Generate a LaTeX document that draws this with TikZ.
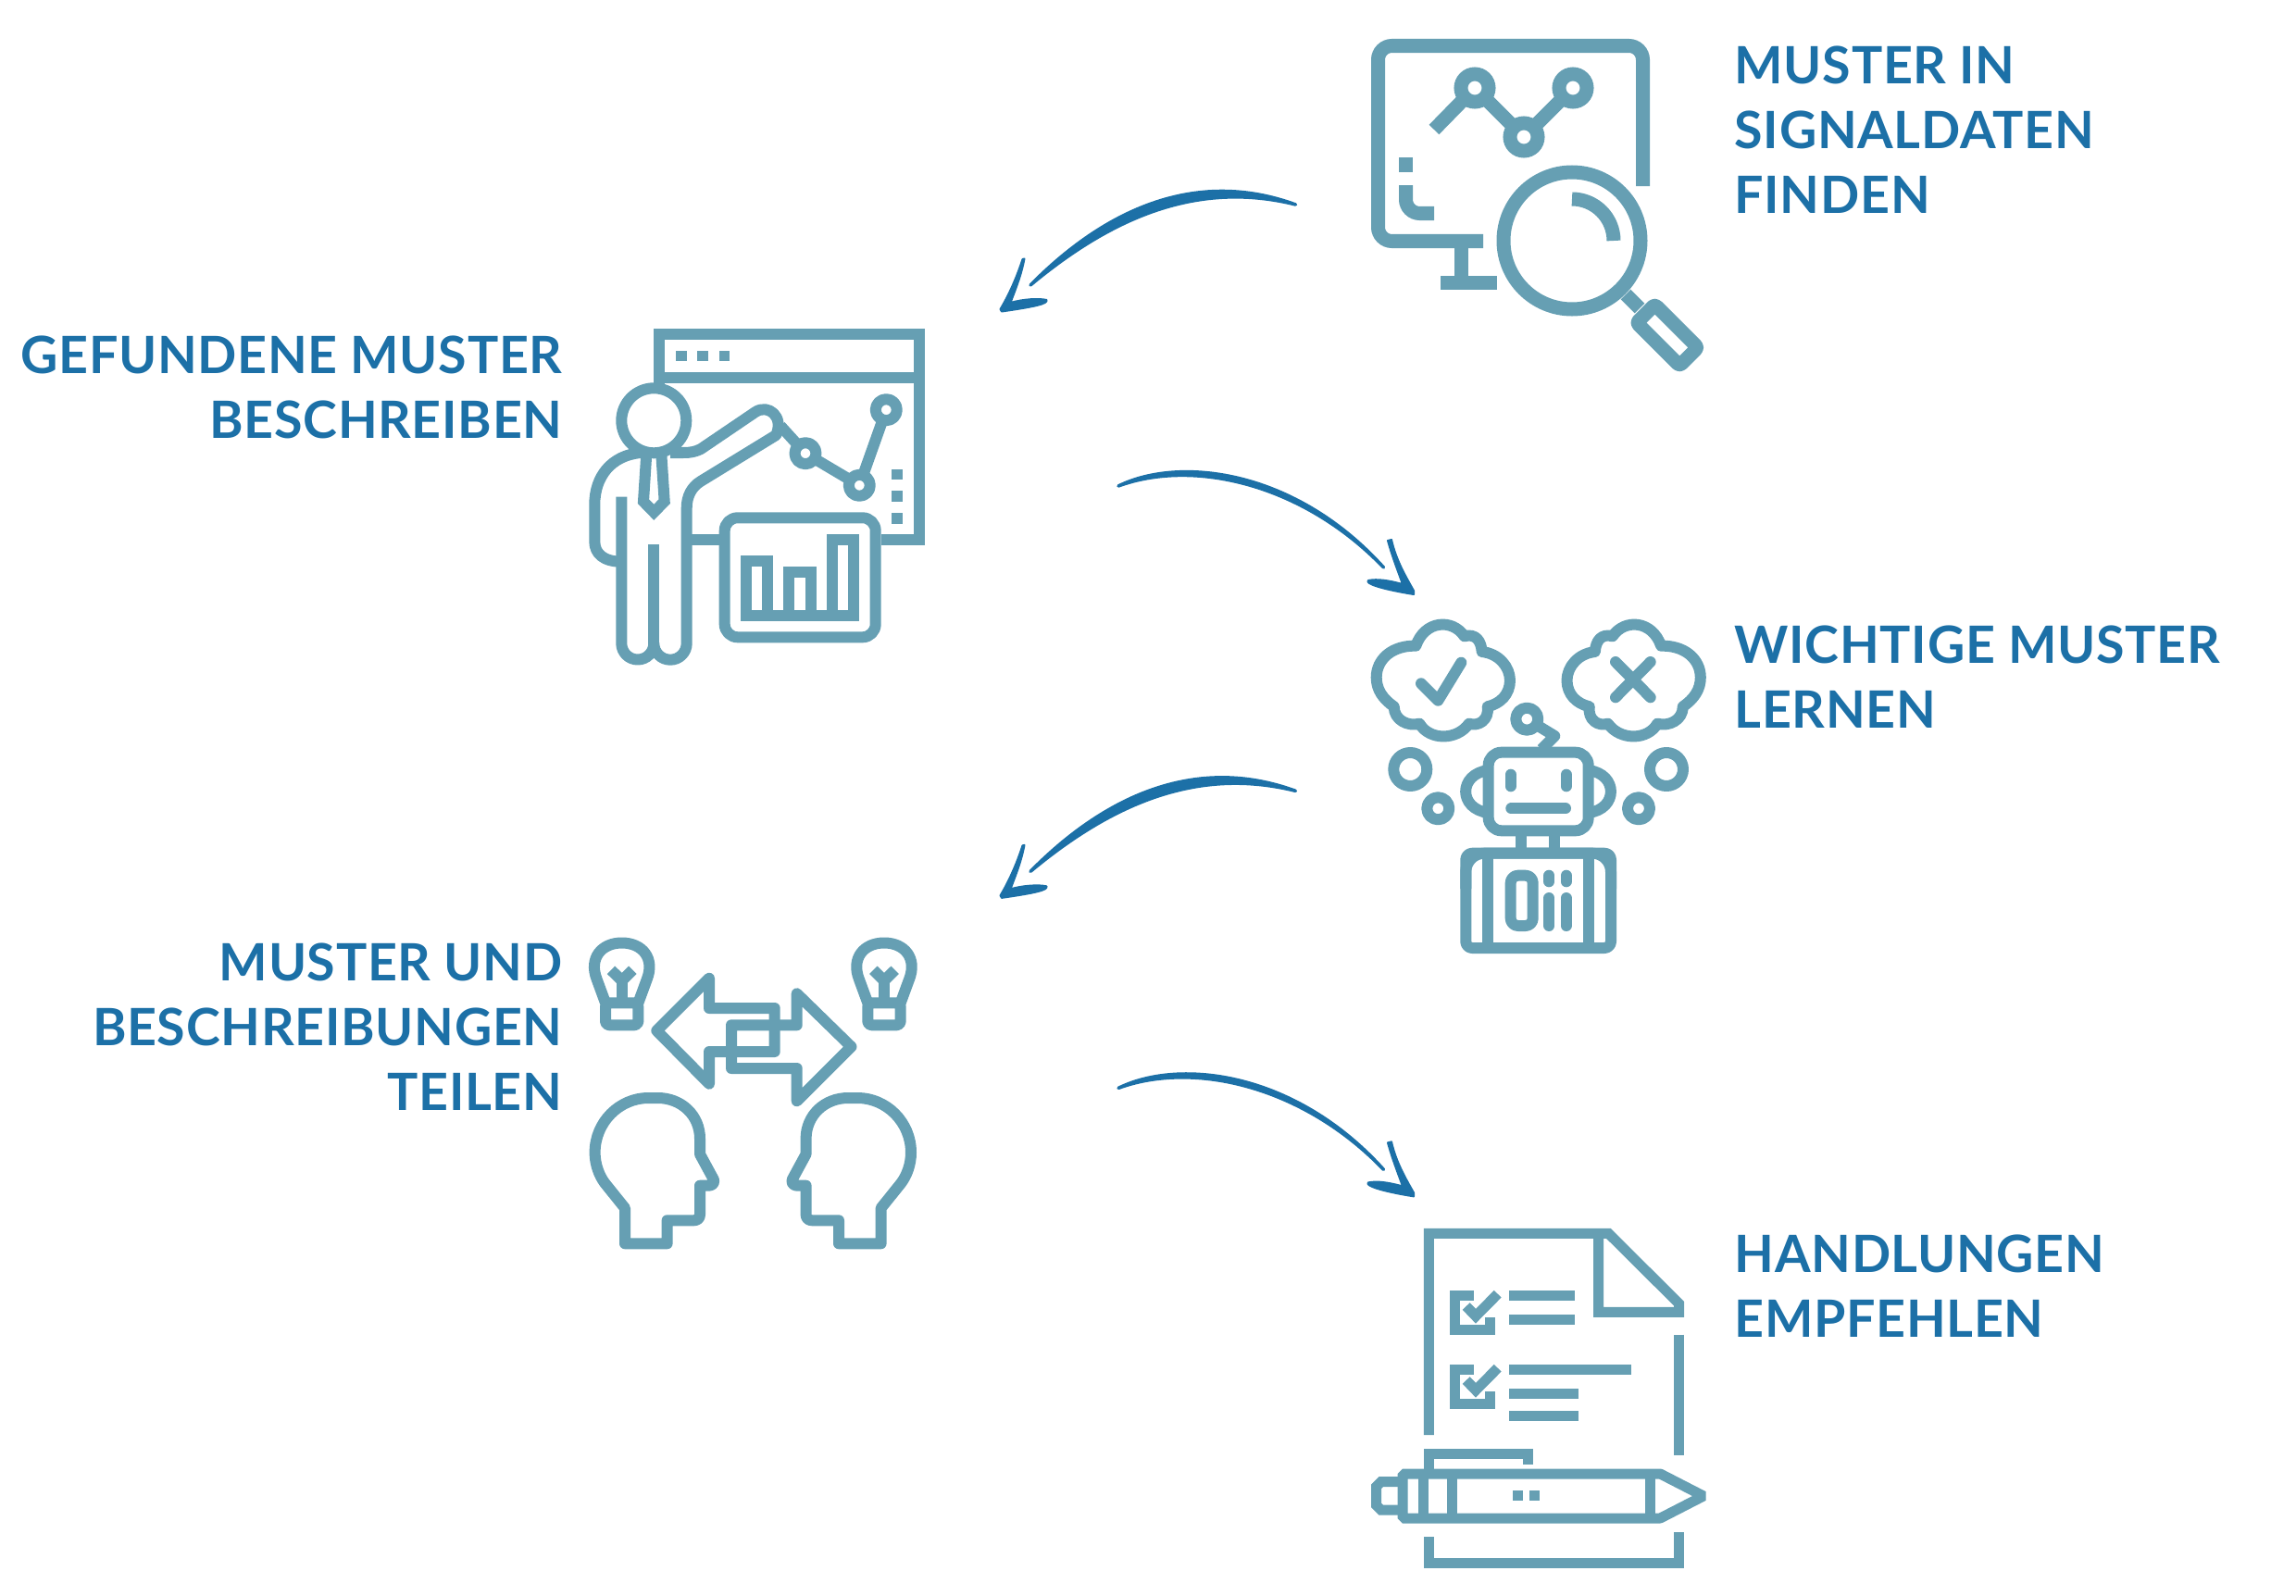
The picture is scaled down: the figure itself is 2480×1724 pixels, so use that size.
\documentclass[tikz,border=0pt]{standalone}
\usepackage{fontspec}
\setmainfont{Lato}[LetterSpace=1.2]
\definecolor{iconteal}{RGB}{102,159,179}
\definecolor{inkblue}{RGB}{28,112,167}
\tikzset{
	icon/.style={draw=iconteal,line width=0.12cm,line join=round},
	iconwide/.style={draw=iconteal,line width=0.15cm},
	icondoc/.style={draw=iconteal,line width=0.11cm},
	dot/.style={icon,line cap=round},
	ring/.style={icon,fill=white},
	inkstroke/.style={fill=inkblue,draw=inkblue,line join=round},
	labeltext/.style={inner sep=0pt,text=inkblue,font=\fontsize{15.8}{19.9}\selectfont\bfseries},
	labelleft/.style={labeltext,anchor=north east,align=right},
	labelright/.style={labeltext,anchor=north west,align=left},
}
\newcommand{\sketchleft}[2]{
	\begin{scope}[yshift=#2]
		\coordinate (#1s) at (1399.5,221);
		\coordinate (#1e) at (1113,308);
		\path[inkstroke,line width=0.035cm] (#1e) .. controls (1192,228) and (1290,181) .. (#1s) .. controls (1295,195) and (1203,233) .. (#1e) -- cycle;
		\path[inkstroke,line width=0.02cm] (1106.5,279.5) .. controls (1103,298) and (1097,312) .. (1091.5,327) .. controls (1105,323) and (1122,322) .. (1130.5,324) .. controls (1132,328) and (1120,331) .. (1082,336.5) -- (1080.5,334) .. controls (1090,318) and (1098,300) .. (1104.5,280) -- cycle;
	\end{scope}
}
\newcommand{\sketchright}[2]{
	\begin{scope}[yshift=#2]
		\coordinate (#1s) at (1208,525);
		\coordinate (#1e) at (1494.5,613);
		\path[inkstroke,line width=0.035cm] (#1s) .. controls (1275,492) and (1400,508) .. (#1e) .. controls (1408,523) and (1290,495) .. (#1s) -- cycle;
		\path[inkstroke,line width=0.02cm] (1499,584) .. controls (1504,602) and (1510,617) .. (1515,631) .. controls (1500,627) and (1488,625) .. (1478,627) .. controls (1474,630) and (1490,636) .. (1527,642) -- (1527,638) .. controls (1518,622) and (1508,605) .. (1503,583) -- cycle;
	\end{scope}
}
\begin{document}
\begin{tikzpicture}[x=0.01cm,y=-0.01cm]
	\useasboundingbox (0,0) rectangle (2480,1724);

	\node[labelright] (signaltext)	at (1873, 49) 	{MUSTER IN\\SIGNALDATEN\\FINDEN};
	\node[labelleft] (describetext)	at ( 608,362) 	{GEFUNDENE MUSTER\\BESCHREIBEN};
	\node[labelright] (learntext)	at (1873,675) 	{WICHTIGE MUSTER\\LERNEN};
	\node[labelleft] (sharetext)	at ( 608,1018) 	{MUSTER UND\\BESCHREIBUNGEN\\TEILEN};
	\node[labelright] (actiontext)	at (1873,1333) 	{HANDLUNGEN\\EMPFEHLEN};

	\sketchleft{arrowa}{0cm}
	\sketchright{arrowb}{0cm}
	\sketchleft{arrowc}{-6.33cm}
	\sketchright{arrowd}{-6.5cm}

	% monitor and magnifier
	\draw[iconwide,rounded corners=0.15cm] (1602,260.5) -- (1488.5,260.5) -- (1488.5,49.5) -- (1774.5,49.5) -- (1774.5,201);
	\draw[iconwide] (1578.5,260.5) -- (1578.5,305.5);
	\draw[iconwide] (1556,305.5) -- (1617,305.5);
	\draw[iconwide] (1549,140) -- (1593,95) -- (1646,148) -- (1699,95);
	\foreach \cx/\cy in {1593/95,1646/148,1699/95}
		\draw[iconwide,fill=white] (\cx,\cy) circle[radius=15];
	\fill[iconteal] (1511,170) rectangle (1526,186);
	\draw[iconwide,rounded corners=0.15cm] (1518.5,200) -- (1518.5,230.5) -- (1549,230.5);
	\draw[iconwide] (1698,260) circle[radius=74];
	\draw[iconwide] (1698,215) arc[start angle=-90,end angle=0,radius=45];
	\draw[iconwide] (1756,318) -- (1771,333);
	\draw[iconwide,line join=round,rounded corners=0.03cm] (1787.4,329) -- (1833.8,375.4) -- (1814.2,395) -- (1767.8,348.6) -- cycle;

	% presenter with chart
	\draw[icon,line join=miter] (712,415) -- (712,361) -- (992.7,361) -- (992.7,582.7) -- (951.7,582.7);
	\draw[icon] (712,407.7) -- (992.7,407.7);
	\draw[icon] (747,582.7) -- (777,582.7);
	\foreach \dx in {730,753.3,776.5}
		\fill[iconteal] (\dx,378.7) rectangle +(11.7,11.7);
	\foreach \dy in {506.7,530.3,554}
		\fill[iconteal] (963.3,\dy) rectangle +(11.7,11.7);
	\draw[icon] (843,460) -- (870,489.7) -- (928.3,524.3) -- (957.3,442.7);
	\foreach \cx/\cy in {870/489.7,928.3/524.3,957.3/442.7}
		\draw[ring] (\cx,\cy) circle[radius=11.5];
	\draw[ring] (706.3,454.3) circle[radius=35];
	\draw[icon] (724,489) -- (738,489) .. controls (746,489) and (751,488) .. (757,485) -- (816,445) .. controls (830,436) and (847,450) .. (838.3,470) -- (756.7,520) .. controls (747,526) and (741.7,536) .. (741.7,549) -- (741.7,695) arc[start angle=0,end angle=180,radius=17.7] arc[start angle=0,end angle=180,radius=17.5] -- (671.3,536.7);
	\draw[icon] (706.3,588) -- (706.3,695);
	\draw[icon] (692,489) .. controls (660,492) and (642.3,515) .. (642.3,545) -- (642.3,585) .. controls (642.3,598) and (652,606.7) .. (671.3,606.7);
	\draw[icon,line join=miter] (698.3,490) -- (695,541.7) -- (706.3,553.3) -- (717.7,541.7) -- (714.3,490);
	\draw[icon,rounded corners=0.14cm] (782.7,559.3) rectangle (945.7,688.3);
	\draw[icon,line join=miter] (805.7,665) -- (805.7,606) -- (829,606) -- (829,665) -- (852.3,665) -- (852.3,618) -- (875.7,618) -- (875.7,665) -- (899,665) -- (899,582.7) -- (922.3,582.7) -- (922.3,665) -- cycle;

	% robot with two clouds
	\foreach \cx/\sx in {1558.8/1,1764.7/-1}
		\draw[icon,shift={(\cx,0)},xscale=\sx] (-29.5,697.7) .. controls (-20,670) and (10,668) .. (22.9,687.3) .. controls (35,684) and (41,692) .. (41.9,704) .. controls (60,706) and (72,720) .. (72.2,735) .. controls (72,750) and (62,760) .. (47.9,763.3) .. controls (50,778) and (38,785) .. (27.9,781.7) .. controls (15,800) and (-15,800) .. (-25.5,781.7) .. controls (-38,785) and (-53,778) .. (-53.1,763.3) .. controls (-65,755) and (-72.1,745) .. (-72.1,731.7) .. controls (-72,712) and (-55,697) .. (-29.5,697.7) -- cycle;
	\draw[dot] (1535,738.3) -- (1553.3,756.7) -- (1578.3,715.7);
	\draw[dot] (1745,715) -- (1782.7,753.3);
	\draw[dot] (1782.7,715) -- (1745,753.3);
	\foreach \cx in {1523.3,1800}
		\draw[icon] (\cx,831) circle[radius=18];
	\foreach \cx in {1553.3,1770}
		\draw[icon] (\cx,873.3) circle[radius=12];
	\draw[icon] (1649.3,776.7) -- (1679.3,795) -- (1665,809.3);
	\draw[ring] (1649.3,776.7) circle[radius=12];
	\draw[icon,fill=white,rounded corners=0.14cm] (1607.7,812.7) rectangle (1715.7,897.3);
	\draw[icon] (1607.7,832) .. controls (1575,836) and (1575,874) .. (1607.7,878);
	\draw[icon] (1715.7,832) .. controls (1748,836) and (1748,874) .. (1715.7,878);
	\draw[dot] (1631.7,836.7) -- (1631.7,849.3);
	\draw[dot] (1691.7,836.7) -- (1691.7,849.3);
	\draw[dot] (1632.3,873.3) -- (1691,873.3);
	\draw[icon] (1643.3,897) -- (1643.3,920);
	\draw[icon] (1679.3,897) -- (1679.3,920);
	\draw[icon,rounded corners=0.07cm] (1583.3,1024) -- (1583.3,921.7) -- (1740,921.7) -- (1740,1024) -- cycle;
	\draw[icon,rounded corners=0.2cm] (1583.3,960) -- (1583.3,921.7) -- (1740,921.7) -- (1740,960);
	\draw[icon] (1607.3,921.7) -- (1607.3,1024);
	\draw[icon] (1716,921.7) -- (1716,1024);
	\draw[icon,rounded corners=0.08cm] (1631.7,945.7) rectangle (1655.7,1000);
	\foreach \cx in {1673.3,1691.7} {
		\draw[dot] (\cx,945.7) -- (\cx,952.3);
		\draw[dot] (\cx,970) -- (\cx,1000);
	}

	% two heads sharing ideas
	\foreach \cx in {671.7,955} {
		\draw[icon,shift={(\cx,0)}] (-17.7,1083.3) -- (-27,1058) .. controls (-36,1035) and (-22,1018.5) .. (0,1018.5) .. controls (22,1018.5) and (36,1035) .. (27,1058) -- (17.7,1083.3);
		\draw[icon,shift={(\cx,0)},rounded corners=0.04cm] (-17.7,1083.3) -- (-17.7,1107.3) -- (17.7,1107.3) -- (17.7,1083.3) -- cycle;
		\draw[icon,shift={(\cx,0)},line join=miter] (0,1083.3) -- (0,1059.3);
		\draw[icon,shift={(\cx,0)},line join=miter] (-11.7,1047.8) -- (0,1059.3) -- (11.7,1047.8);
	}
	\draw[icon] (709.3,1113.3) -- (766,1056.7) -- (766,1089) -- (836.7,1089) -- (836.7,1136) -- (766,1136) -- (766,1170.7) -- cycle;
	\draw[icon] (919.5,1130.7) -- (860.7,1073.3) -- (860.7,1107.3) -- (790,1107.3) -- (790,1154) -- (860.7,1154) -- (860.7,1189.3) -- cycle;
	\foreach \sx in {1,-1}
		\draw[icon,shift={(813.3,0)},xscale=\sx] (-92.7,1318.3) -- (-92.7,1343.3) -- (-138.3,1343.3) -- (-138.3,1305) -- (-160,1278) .. controls (-166,1270) and (-170.7,1258) .. (-170.7,1245) .. controls (-170.7,1212) and (-144,1186) .. (-113,1186) -- (-103,1186) .. controls (-77,1186) and (-57.3,1205) .. (-57.3,1230) -- (-57.3,1246.7) -- (-42.5,1274) .. controls (-41,1278) and (-44,1280.7) .. (-48,1280.7) -- (-57.3,1280.7) -- (-57.3,1312) .. controls (-57.3,1316) and (-60,1318.3) .. (-64,1318.3) -- cycle;

	% checklist and pen
	\draw[icondoc] (1543.3,1550) -- (1543.3,1332.3) -- (1737.3,1332.3) -- (1813.7,1408.3) -- (1813.7,1417.3) -- (1726.7,1417.3) -- (1726.7,1332.3);
	\draw[icondoc] (1813.7,1441.7) -- (1813.7,1572.3);
	\draw[icondoc] (1813.7,1655) -- (1813.7,1688) -- (1543.3,1688) -- (1543.3,1660);
	\foreach \dy in {0,80} {
		\draw[icondoc] (1591.7,1399.3+\dy) -- (1571.7,1399.3+\dy) -- (1571.7,1436.3+\dy) -- (1609,1436.3+\dy) -- (1609,1423.3+\dy);
		\draw[icondoc] (1583.7,1411+\dy) -- (1594,1421.7+\dy) -- (1617.7,1397.7+\dy);
	}
	\draw[icondoc] (1630.3,1399.7) -- (1701.3,1399.7);
	\draw[icondoc] (1630.3,1425.3) -- (1701.3,1425.3);
	\draw[icondoc] (1630.3,1479.7) -- (1761.7,1479.7);
	\draw[icondoc] (1630.3,1505.7) -- (1705.3,1505.7);
	\draw[icondoc] (1630.3,1529) -- (1705.3,1529);
	\draw[icondoc] (1543.3,1587) -- (1543.3,1570.3) -- (1650,1570.3) -- (1650,1581.7);
	\draw[icondoc,line join=bevel] (1515,1592) -- (1793.3,1592) -- (1840,1616) -- (1793.3,1640) -- (1515,1640) -- cycle;
	\foreach \cx in {1537.3,1568,1782.7}
		\draw[icondoc] (\cx,1592) -- (\cx,1640);
	\draw[icondoc] (1515,1600.7) -- (1491.7,1600.7) -- (1486.7,1605.7) -- (1486.7,1626) -- (1491.7,1631) -- (1515,1631);
	\foreach \cx in {1634,1651.7}
		\fill[iconteal] (\cx,1610.3) rectangle +(11,11);
\end{tikzpicture}
\end{document}
